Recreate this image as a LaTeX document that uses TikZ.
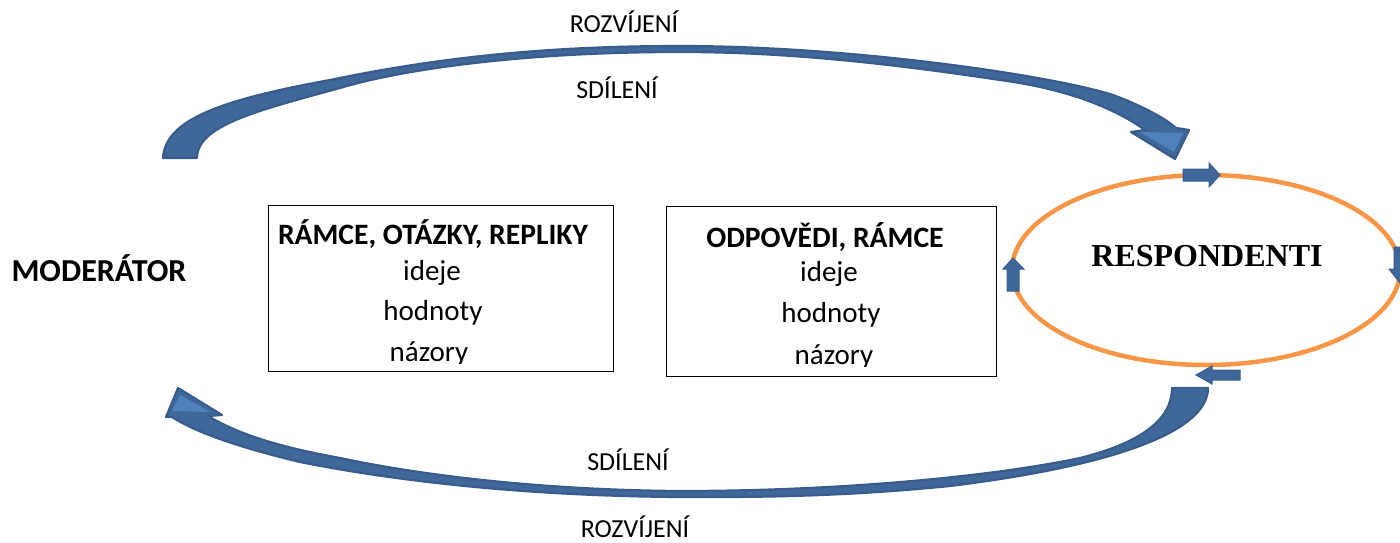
\documentclass[tikz,border=0pt]{standalone}
\usepackage{fontspec}
\setmainfont{Carlito}
\newfontfamily\tnr{Liberation Serif}
\definecolor{bandblue}{RGB}{63,103,154}
\definecolor{edgeblue}{RGB}{56,93,138}
\definecolor{headblue}{RGB}{79,129,189}
\definecolor{ringorange}{RGB}{247,150,70}
\tikzset{
  band/.style={fill=bandblue,draw=edgeblue,line width=2.2pt,line join=round},
  smallarrow/.style={fill=bandblue,draw=edgeblue,line width=1pt,line join=miter},
  lbl/.style={font=\fontsize{26}{30}\selectfont,anchor=base,inner sep=0pt},
  head/.style={font=\bfseries\fontsize{29.6}{33}\selectfont,anchor=base,inner sep=0pt},
  item/.style={font=\fontsize{29}{33}\selectfont,anchor=base,inner sep=0pt},
  textbox/.style={draw=black,line width=0.9pt}
}
\begin{document}
\begin{tikzpicture}[x=1pt,y=-1pt]
\useasboundingbox (0,0) rectangle (1400,543);

% boxes
\draw[textbox] (268,205) rectangle (613,371);
\draw[textbox] (666,206) rectangle (996,376);

% texts in box 1
\node[head] (h1) at (433,244) {RÁMCE, OTÁZKY, REPLIKY};
\node[item] (i1) at (432,280) {ideje};
\node[item] (o1) at (433,320) {hodnoty};
\begin{scope}
\clip (268,205) rectangle (613,363);
\node[item] (n1) at (429,361) {názory};
\end{scope}

% texts in box 2
\node[head] (h2) at (825,247) {ODPOVĚDI, RÁMCE};
\node[item] (i2) at (829,281) {ideje};
\node[item] (o2) at (831,322) {hodnoty};
\begin{scope}
\clip (666,206) rectangle (996,366);
\node[item] (n2) at (834,364) {názory};
\end{scope}

% moderator
\node[anchor=base,inner sep=0pt,font=\bfseries\fontsize{32}{36}\selectfont] (mod) at (99,281) {MODERÁTOR};

% respondents ellipse
\draw[ringorange,line width=4.5pt] (1206,270) ellipse [x radius=194,y radius=95];
\node[anchor=base,inner sep=0pt,font=\tnr\bfseries\fontsize{32}{36}\selectfont] (resp) at (1207,266) {RESPONDENTI};

% labels
\node[lbl] (r1) at (624,33) {ROZVÍJENÍ};
\node[lbl] (s1) at (617,99) {SDÍLENÍ};
\node[lbl] (s2) at (628,470) {SDÍLENÍ};
\node[lbl] (r2) at (635,537) {ROZVÍJENÍ};

% top curved arrow
\draw[band] (163,158) .. controls (165,120) and (220,100) .. (330,80)
  .. controls (450,55) and (560,46) .. (680,46)
  .. controls (850,46) and (1050,75) .. (1113,95)
  .. controls (1140,105) and (1165,118) .. (1176,128)
  -- (1189,130) -- (1175,159) -- (1131,132) -- (1145,130)
  .. controls (1110,105) and (1060,88) .. (1000,80)
  .. controls (880,62) and (780,52) .. (680,52)
  .. controls (520,52) and (400,70) .. (340,88)
  .. controls (260,110) and (197,125) .. (197,158) -- cycle;
\fill[headblue] (1140,132) -- (1183,133) -- (1174,152) -- cycle;

% bottom curved arrow
\draw[band] (1172,388) -- (1208,388)
  .. controls (1208,430) and (1120,465) .. (950,486)
  .. controls (830,498) and (740,497) .. (680,497)
  .. controls (520,496) and (390,480) .. (300,462)
  .. controls (250,450) and (200,435) .. (172,417)
  -- (166,417) -- (178,388) -- (222,415) -- (208,416)
  .. controls (240,435) and (280,447) .. (340,458)
  .. controls (420,475) and (540,490) .. (680,491)
  .. controls (850,491) and (1000,475) .. (1080,458)
  .. controls (1140,443) and (1172,420) .. (1172,388) -- cycle;
\fill[headblue] (172,411) -- (180,395) -- (210,412) -- cycle;

% small arrows on the ellipse
\draw[smallarrow] (1183,169) -- (1209,169) -- (1209,163) -- (1220,175) -- (1209,187) -- (1209,181) -- (1183,181) -- cycle;
\draw[smallarrow] (1007,291) -- (1007,269) -- (1003,269) -- (1013,258) -- (1024,269) -- (1019,269) -- (1019,291) -- cycle;
\draw[smallarrow] (1240,370) -- (1212,370) -- (1212,366) -- (1196,375) -- (1212,384) -- (1212,380) -- (1240,380) -- cycle;
\draw[smallarrow] (1394,247) -- (1394,269) -- (1389,269) -- (1400,283) -- (1411,269) -- (1406,269) -- (1406,247) -- cycle;
\end{tikzpicture}
\end{document}
